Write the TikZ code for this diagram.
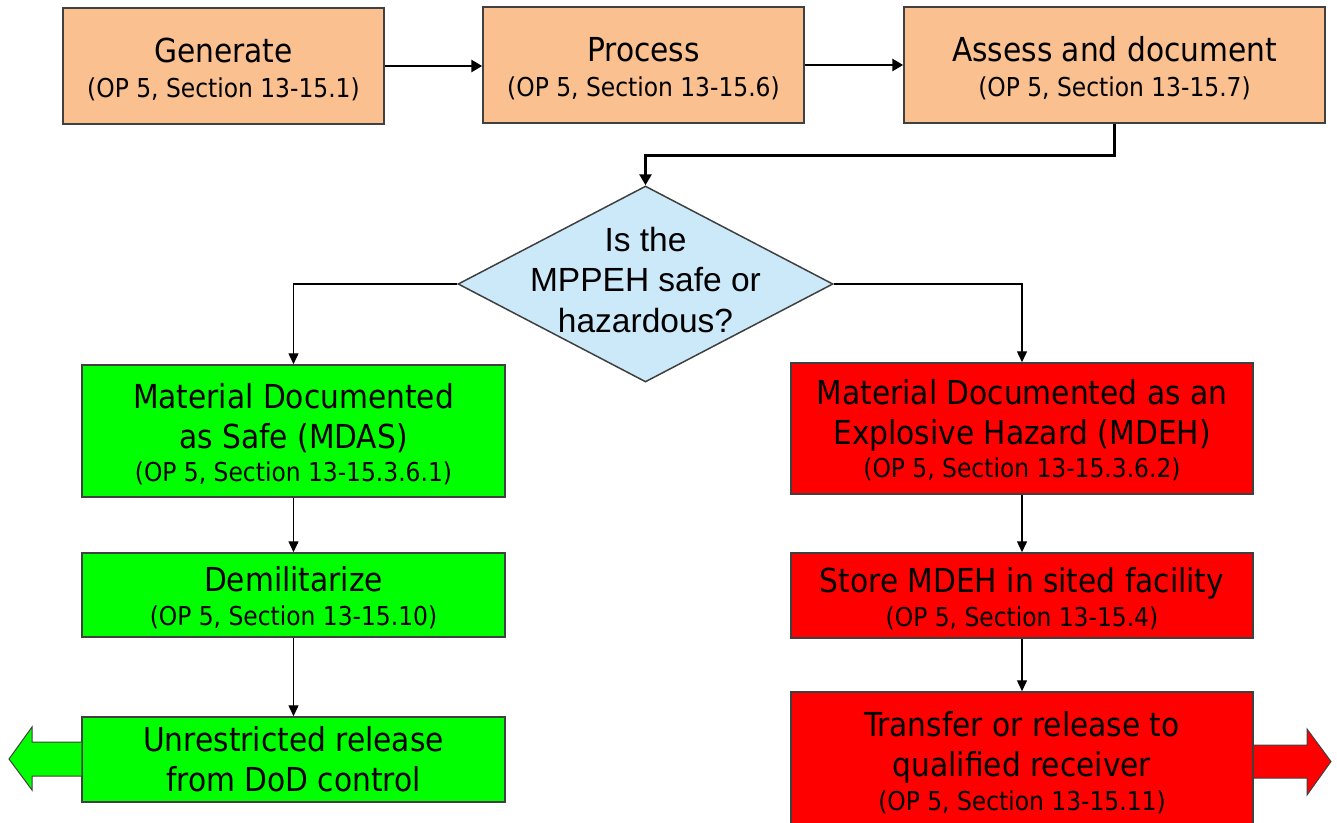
\documentclass[tikz,border=0pt]{standalone}
\usepackage{fontspec}
\setmainfont{DejaVu Sans Condensed}
\newfontfamily\arialf{Liberation Sans}
\usetikzlibrary{shapes.geometric,arrows.meta}
\definecolor{peach}{HTML}{FAC090}
\definecolor{dblue}{HTML}{CCE9F9}
\definecolor{gbox}{HTML}{00FF00}
\definecolor{rbox}{HTML}{FF0000}
\definecolor{edge}{HTML}{404040}
\newcommand{\subf}{\fontsize{26}{30}\selectfont}
\newcommand{\dn}[1]{\rule{0pt}{#1pt}}
\tikzset{
  box/.style={draw=edge, line width=1.5pt, inner sep=0pt, align=center,
    font=\fontsize{33}{40}\selectfont},
  topbox/.style={box, fill=peach, minimum height=116pt},
  gboxs/.style={box, fill=gbox, minimum width=423pt},
  rboxs/.style={box, fill=rbox, minimum width=462pt},
  conn/.style={line width=1.4pt, -{Triangle[length=11pt,width=10pt]}},
  tconn/.style={line width=2.8pt, -{Triangle[length=11pt,width=12pt]}},
  bigarrow/.style={draw=edge, line width=1pt, line join=miter}
}
\begin{document}
\begin{tikzpicture}[x=1pt,y=-1pt]
\useasboundingbox (0,0) rectangle (1337,822);
% top row
\node[topbox, minimum width=321pt] (gen) at (223.5,66) {\dn{31}Generate\\[-5pt]{\subf (OP 5, Section 13-15.1)}};
\node[topbox, minimum width=321pt] (proc) at (643.5,65) {\dn{31}Process\\[-5pt]{\subf (OP 5, Section 13-15.6)}};
\node[topbox, minimum width=421pt] (assess) at (1114.5,65) {\dn{31}Assess and document\\[-5pt]{\subf (OP 5, Section 13-15.7)}};
% decision
\node[draw=edge, line width=1.5pt, fill=dblue, shape=diamond, inner sep=0pt,
  minimum width=375pt, minimum height=196pt] (dia) at (645.5,284) {};
\node[align=center, inner sep=0pt, font=\arialf\fontsize{33.5}{40.5}\selectfont] (diaT) at (645.5,280) {Is the\\MPPEH safe or\\hazardous?};
% safe branch
\node[gboxs, minimum height=132pt] (mdas) at (293.5,431) {\dn{32}Material Documented\\as Safe (MDAS)\\[-7pt]{\subf (OP 5, Section 13-15.3.6.1)}};
\node[gboxs, minimum height=84pt] (demil) at (293.5,595) {\dn{31}Demilitarize\\[-6pt]{\subf (OP 5, Section 13-15.10)}};
\node[gboxs, minimum height=85pt] (unres) at (293.5,759.5) {Unrestricted release\\from DoD control};
% hazard branch
\node[rboxs, minimum height=131pt] (mdeh) at (1022,428.5) {\dn{29}Material Documented as an\\Explosive Hazard (MDEH)\\[-7pt]{\subf (OP 5, Section 13-15.3.6.2)}};
\node[rboxs, minimum height=85pt] (store) at (1022,595.5) {\dn{32}Store MDEH in sited facility\\[-6pt]{\subf (OP 5, Section 13-15.4)}};
\node[rboxs, minimum height=142pt] (transfer) at (1022,763) {Transfer or release to\\qualified receiver\\[-6pt]{\subf (OP 5, Section 13-15.11)}};
% big exit arrows
\draw[bigarrow, fill=gbox] (unres.west |- 0,742) -- (32,742) -- (32,727) -- (9,759) -- (32,790) -- (32,776) -- (unres.west |- 0,776);
\draw[bigarrow, fill=rbox] (transfer.east |- 0,745) -- (1307,745) -- (1307,729) -- (1331,761.5) -- (1307,795) -- (1307,778) -- (transfer.east |- 0,778);
% connectors
\draw[tconn] (gen.east) -- (gen.east -| proc.west);
\draw[tconn] (proc.east) -- (proc.east -| assess.west);
\draw[tconn] (assess.south) -- ++(0,32) -| (dia.north);
\draw[conn] (dia.west) -| (mdas.north);
\draw[conn] (dia.east) -| (mdeh.north);
\draw[conn] (mdas.south) -- (demil.north);
\draw[conn] (demil.south) -- (unres.north);
\draw[conn] (mdeh.south) -- (store.north);
\draw[conn] (store.south) -- (transfer.north);
\end{tikzpicture}
\end{document}
